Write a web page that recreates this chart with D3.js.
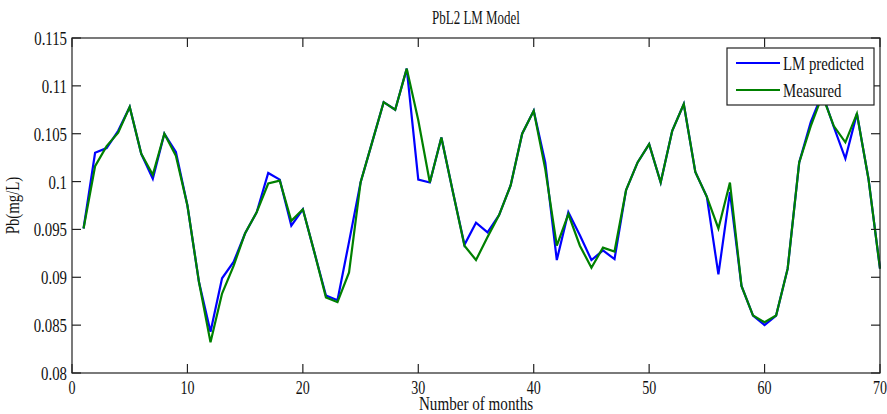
<!DOCTYPE html>
<html><head><meta charset="utf-8">
<script src="https://cdn.jsdelivr.net/npm/d3@7"></script>
<style>body{margin:0;background:#fff}svg{display:block}</style>
</head><body>
<script>
const months = d3.range(1, 71);
const predicted = [0.0951,0.1030,0.1035,0.1053,0.1078,0.1029,0.1003,0.1050,0.1031,0.0975,
  0.0895,0.0843,0.0899,0.0916,0.0946,0.0968,0.1009,0.1002,0.0954,0.0971,
  0.0926,0.0881,0.0876,0.0937,0.0999,0.1041,0.1083,0.1075,0.1118,0.1002,
  0.0999,0.1046,0.0989,0.0934,0.0957,0.0947,0.0965,0.0996,0.1050,0.1074,
  0.1020,0.0918,0.0968,0.0944,0.0918,0.0928,0.0919,0.0991,0.1020,0.1039,
  0.0999,0.1053,0.1081,0.1010,0.0984,0.0903,0.0989,0.0891,0.0860,0.0850,
  0.0860,0.0909,0.1020,0.1062,0.1092,0.1057,0.1024,0.1071,0.1003,0.0909];
const measured = [0.0951,0.1016,0.1037,0.1051,0.1078,0.1029,0.1007,0.1050,0.1027,0.0975,
  0.0895,0.0832,0.0883,0.0912,0.0946,0.0968,0.0998,0.1001,0.0959,0.0971,
  0.0926,0.0879,0.0874,0.0905,0.0999,0.1041,0.1083,0.1075,0.1118,0.1064,
  0.0999,0.1046,0.0989,0.0933,0.0918,0.0942,0.0965,0.0996,0.1050,0.1074,
  0.1013,0.0933,0.0966,0.0933,0.0910,0.0931,0.0927,0.0991,0.1020,0.1039,
  0.0999,0.1053,0.1081,0.1010,0.0984,0.0951,0.0999,0.0891,0.0860,0.0853,
  0.0860,0.0909,0.1020,0.1058,0.1090,0.1058,0.1041,0.1071,0.1003,0.0909];
const xTicks = [0,10,20,30,40,50,60,70];
const yTicks = [0.08,0.085,0.09,0.095,0.1,0.105,0.11,0.115];
const yTickLabels = ["0.08","0.085","0.09","0.095","0.1","0.105","0.11","0.115"];
const seriesNames = ["LM predicted","Measured"];
const seriesColors = ["#0000ff","#008000"];
const titleText = "PbL2 LM Model";
const xLabel = "Number of months";
const yLabel = "Pb(mg/L)";

const W = 887, H = 414;
const L = 72, R = 880, T = 38, B = 373;
const svg = d3.select("body").append("svg").attr("width", W).attr("height", H);
const x = d3.scaleLinear().domain([0,70]).range([L,R]);
const y = d3.scaleLinear().domain([0.08,0.115]).range([B,T]);
const FONT = "'Liberation Serif','Times New Roman',serif";
const SX = 0.78;

function ctext(px, py, str, size, anchor, sx, rot) {
  const g = svg.append("g").attr("transform", `translate(${px},${py})` + (rot ? ` rotate(${rot})` : "") + ` scale(${sx},1)`);
  g.append("text").attr("x",0).attr("y",0).attr("text-anchor",anchor)
    .attr("font-family",FONT).attr("font-size",size).attr("fill","#111").text(str);
  return g;
}

// lines
const line = d3.line().x((d,i)=>x(months[i])).y(d=>y(d));
[predicted, measured].forEach((s,k)=>{
  svg.append("path").datum(s).attr("d",line).attr("fill","none")
    .attr("stroke",seriesColors[k]).attr("stroke-width",2.2).attr("stroke-linejoin","miter");
});

// axes
const tl = 9;
const ax = svg.append("g").attr("stroke","#222").attr("fill","none").attr("stroke-width",1.2);
ax.append("rect").attr("x",L).attr("y",T).attr("width",R-L).attr("height",B-T);
xTicks.forEach(v=>{
  ax.append("line").attr("x1",x(v)).attr("x2",x(v)).attr("y1",B).attr("y2",B-tl);
  ax.append("line").attr("x1",x(v)).attr("x2",x(v)).attr("y1",T).attr("y2",T+tl);
});
yTicks.forEach(v=>{
  ax.append("line").attr("x1",L).attr("x2",L+tl).attr("y1",y(v)).attr("y2",y(v));
  ax.append("line").attr("x1",R).attr("x2",R-tl).attr("y1",y(v)).attr("y2",y(v));
});
xTicks.forEach(v=> ctext(x(v), 394, String(v), 18, "middle", SX));
yTicks.forEach((v,i)=> ctext(L-5, y(v)+7, yTickLabels[i], 19, "end", SX));

ctext((L+R)/2, 24, titleText, 18, "middle", 0.72);
ctext((L+R)/2, 410, xLabel, 18, "middle", 0.84);
ctext(19, (T+B)/2, yLabel, 19, "middle", SX, -90);

// legend
const lg = svg.append("g");
lg.append("rect").attr("x",727).attr("y",48).attr("width",147).attr("height",57)
  .attr("fill","#fff").attr("stroke","#222").attr("stroke-width",1.2);
seriesNames.forEach((n,i)=>{
  const ly = 63 + i*27;
  lg.append("line").attr("x1",736).attr("x2",780).attr("y1",ly).attr("y2",ly)
    .attr("stroke",seriesColors[i]).attr("stroke-width",2.2);
  ctext(783, ly+7, n, 19, "start", SX);
});
</script>
</body></html>
